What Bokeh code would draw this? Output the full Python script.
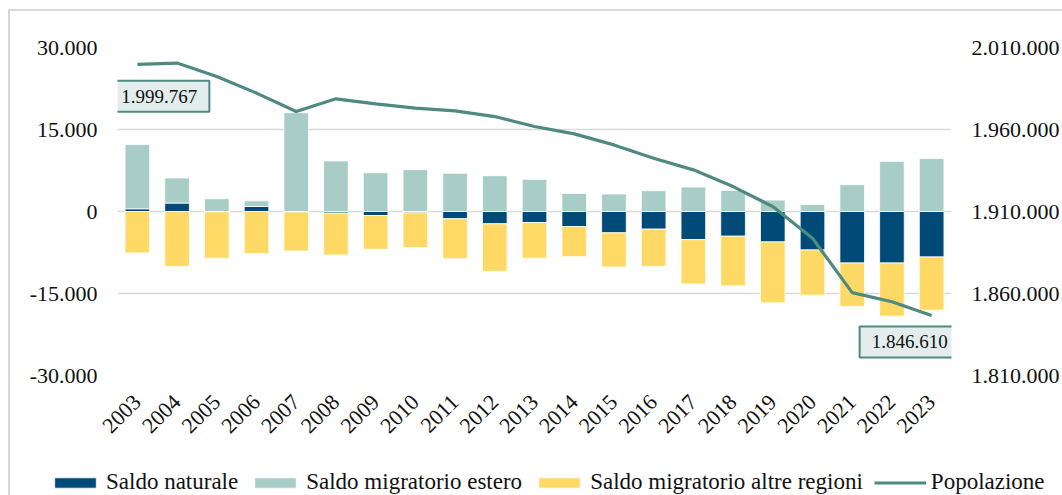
from bokeh.plotting import figure
from bokeh.layouts import column
from bokeh.models import (ColumnDataSource, FactorRange, Range1d, LinearAxis,
                          FixedTicker, Legend, LegendItem, Label)
from bokeh.embed import file_html
from bokeh.resources import INLINE
import math

years = [str(y) for y in range(2003, 2024)]
saldo_naturale = [500, 1540, -50, 920, -100, -300, -730, -250, -1340, -2260, -2020,
                  -2750, -3910, -3230, -5140, -4520, -5560, -7030, -9420, -9420, -8320]
saldo_estero = [11740, 4590, 2330, 1040, 18070, 9250, 7100, 7650, 6980, 6550, 5880,
                3300, 3190, 3800, 4480, 3860, 2090, 1290, 4900, 9180, 9680]
saldo_altre = [-7580, -10030, -8510, -7710, -7120, -7650, -6180, -6360, -7290, -8690, -6540,
               -5510, -6240, -6800, -8130, -9070, -11150, -8270, -7950, -9730, -9730]
popolazione = [1999767, 2000500, 1992300, 1982200, 1970950, 1978700, 1975650, 1973000,
               1971400, 1967900, 1961800, 1957350, 1950600, 1942500, 1935400, 1925200,
               1913000, 1893700, 1860500, 1855000, 1846610]

left_ticks = [-30000, -15000, 0, 15000, 30000]
left_tick_labels = ["-30.000", "-15.000", "0", "15.000", "30.000"]
right_ticks = [1810000, 1860000, 1910000, 1960000, 2010000]
right_tick_labels = ["1.810.000", "1.860.000", "1.910.000", "1.960.000", "2.010.000"]

series_names = ["Saldo naturale", "Saldo migratorio estero", "Saldo migratorio altre regioni"]
series_values = [saldo_naturale, saldo_estero, saldo_altre]
series_colors = ["#004A77", "#A8CDC7", "#FFD966"]
line_color = "#4E8A80"
font = "Liberation Serif"
text_color = "#111111"

p = figure(x_range=FactorRange(*years), y_range=Range1d(-30000, 30000),
           width=1052, height=459, output_backend="svg", toolbar_location=None,
           min_border_left=107, min_border_right=110, min_border_top=36,
           min_border_bottom=95)
p.extra_y_ranges = {"pop": Range1d(1810000, 2010000)}
p.outline_line_color = None
p.background_fill_color = "white"
p.border_fill_color = "white"

# stacked bars (positives up, negatives down)
pos_base = [0.0] * len(years)
neg_base = [0.0] * len(years)
for name, vals, col in zip(series_names, series_values, series_colors):
    bottoms, tops = [], []
    for i, v in enumerate(vals):
        if v >= 0:
            bottoms.append(pos_base[i]); tops.append(pos_base[i] + v); pos_base[i] += v
        else:
            bottoms.append(neg_base[i]); tops.append(neg_base[i] + v); neg_base[i] += v
    src = ColumnDataSource(dict(x=years, bottom=bottoms, top=tops))
    p.vbar(x="x", bottom="bottom", top="top", width=0.62, source=src,
           fill_color=col, line_color="white", line_width=0.8)

psrc = ColumnDataSource(dict(x=years, y=popolazione))
p.line(x="x", y="y", source=psrc, y_range_name="pop",
       line_color=line_color, line_width=3.2)

# axes
p.xaxis.major_label_orientation = math.pi / 4
p.yaxis.ticker = FixedTicker(ticks=left_ticks)
p.yaxis.major_label_overrides = dict(zip(left_ticks, left_tick_labels))
right = LinearAxis(y_range_name="pop", ticker=FixedTicker(ticks=right_ticks),
                   major_label_overrides=dict(zip(right_ticks, right_tick_labels)))
p.add_layout(right, "right")

for ax in [p.xaxis[0], p.yaxis[0], right]:
    ax.axis_line_color = None
    ax.major_tick_line_color = None
    ax.minor_tick_line_color = None
    ax.major_tick_out = 0
    ax.major_tick_in = 0
    ax.major_label_text_font = font
    ax.major_label_text_font_size = "22px"
    ax.major_label_text_color = text_color
p.yaxis[0].major_label_standoff = 20
right.major_label_standoff = 20
p.xaxis[0].major_label_standoff = 23

p.xgrid.grid_line_color = None
p.ygrid.grid_line_color = "#D9D9D9"
p.ygrid.grid_line_width = 1.6
p.ygrid.ticker = FixedTicker(ticks=left_ticks)

# value labels (categorical centre of a factor = index + 0.5)
def label_at(idx, text, dx, dy):
    return Label(x=idx + 0.5, y=popolazione[idx], y_range_name="pop",
                 text=text, x_offset=dx, y_offset=dy,
                 text_align="center", text_baseline="middle",
                 text_font=font, text_font_size="19px", text_color=text_color,
                 background_fill_color="#E3EEEC", border_line_color=line_color,
                 border_line_width=2, padding=(12, 9))

p.add_layout(label_at(0, "1.999.767", 22, -32))
p.add_layout(label_at(len(years) - 1, "1.846.610", -22, -26.5))

# legend strip (same styles as the chart's series)
lg = figure(width=1052, height=25, output_backend="svg", toolbar_location=None,
            x_range=Range1d(0, 1), y_range=Range1d(0, 1),
            x_axis_location=None, y_axis_location=None,
            min_border_left=0, min_border_right=0, min_border_top=0, min_border_bottom=0)
for fig in (p, lg):
    if "frame_align" in fig.properties():
        fig.frame_align = False
lg.outline_line_color = None
lg.grid.grid_line_color = None
lg.background_fill_color = None
lg.border_fill_color = None
# proxies sit outside the visible range: only their legend swatches show
proxy = dict(x=[-1.0], bottom=[-1.0], top=[-1.0])
leg_renderers = [lg.vbar(x="x", bottom="bottom", top="top", width=0.01,
                         source=ColumnDataSource(dict(proxy)), fill_color=c,
                         line_color="white", line_width=0.8) for c in series_colors]
leg_line = lg.line(x=[-1.0, -1.0], y=[-1.0, -1.0], line_color=line_color, line_width=3.2)
items = [LegendItem(label=n, renderers=[r]) for n, r in zip(series_names, leg_renderers)]
items.append(LegendItem(label="Popolazione", renderers=[leg_line]))
legend = Legend(items=items, orientation="horizontal", location=(39, 0),
                glyph_width=52, glyph_height=13, label_standoff=5, spacing=11,
                padding=0, margin=0, border_line_color=None,
                background_fill_alpha=0,
                label_text_font=font, label_text_font_size="23px",
                label_text_color=text_color)
lg.add_layout(legend)

layout = column(p, lg)
layout.styles = {"margin-left": "8px", "margin-top": "9px",
                 "border-top": "2px solid #d9d9d9", "border-left": "2px solid #d9d9d9"}

open("out.html", "w").write(file_html(layout, INLINE))
